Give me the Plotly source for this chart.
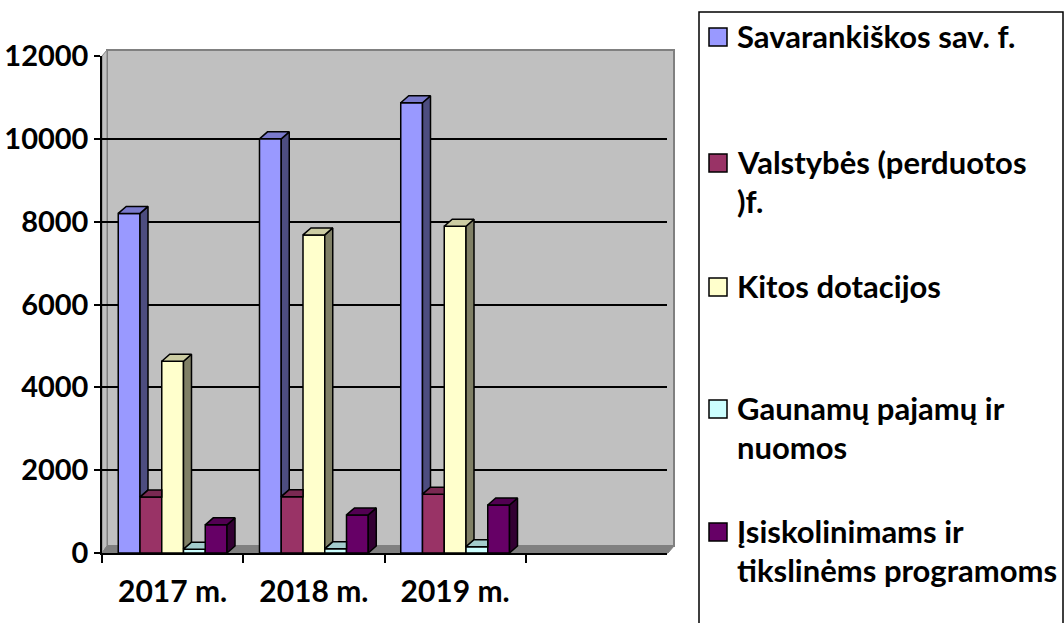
import plotly.graph_objects as go

# ---------------- data ----------------
categories = ["2017 m.", "2018 m.", "2019 m."]
series_names = [
    "Savarankiškos sav. f.",
    "Valstybės (perduotos )f.",
    "Kitos dotacijos",
    "Gaunamų pajamų ir nuomos",
    "Įsiskolinimams ir tikslinėms programoms",
]
legend_lines = [
    ["Savarankiškos sav. f."],
    ["Valstybės (perduotos", ")f."],
    ["Kitos dotacijos"],
    ["Gaunamų pajamų ir", "nuomos"],
    ["Įsiskolinimams ir", "tikslinėms programoms"],
]
savarankiskos = [8200, 10000, 10870]
valstybes = [1350, 1360, 1420]
kitos = [4630, 7680, 7890]
gaunamu = [90, 100, 150]
isiskolinimams = [680, 920, 1160]
y_ticks = [0, 2000, 4000, 6000, 8000, 10000, 12000]
y_tick_labels = ["0", "2000", "4000", "6000", "8000", "10000", "12000"]

values = [savarankiskos, valstybes, kitos, gaunamu, isiskolinimams]

front_colors = ["#9999FF", "#993366", "#FFFFCC", "#CCFFFF", "#660066"]
side_colors = ["#4D4D80", "#4D1A33", "#808066", "#668080", "#330033"]
top_colors = ["#7A7ACC", "#7A2952", "#CCCCA3", "#A3CCCC", "#520052"]

# ---------------- geometry ----------------
W, H = 1064, 623
L, R, T, B = 102, 667, 56, 553
YMAX = 12000
XMIN, XMAX = -0.5, 3.5
BARGAP = 0.23
n = len(values)
bw = (1 - BARGAP) / n
DX_PX, DY_PX = 8, 7
dxu = DX_PX * (XMAX - XMIN) / (R - L)
dyu = DY_PX * YMAX / (B - T)
FONT = "Lato"
FS = 30


def xp(px):
    return (px - L) / (R - L)


def yp(py):
    return (B - py) / (B - T)


def ppath(pts):
    return "M " + " L ".join(f"{xp(x):.5f},{yp(y):.5f}" for x, y in pts) + " Z"


fig = go.Figure()

# front faces: real bars
x_pos = list(range(len(categories)))
for j in range(n):
    fig.add_trace(go.Bar(
        x=x_pos, y=values[j], name=series_names[j],
        marker=dict(color=front_colors[j], line=dict(color="black", width=1.5)),
        showlegend=False, hovertemplate="%{y}<extra>" + series_names[j] + "</extra>",
    ))

# 3D side and top faces computed from the same values
for j in range(n):
    sx, sy, tx, ty = [], [], [], []
    for c in range(len(categories)):
        h = values[j][c]
        center = c + (j - (n - 1) / 2) * bw
        x0, x1 = center - bw / 2, center + bw / 2
        hn = values[j + 1][c] if j < n - 1 else None
        base = 0 if hn is None else hn
        if hn is None or h > hn:
            poly = [(x1, base), (x1 + dxu, base + dyu), (x1 + dxu, h + dyu), (x1, h), (x1, base)]
            for px_, py_ in poly:
                sx.append(px_)
                sy.append(py_)
            sx.append(None)
            sy.append(None)
        if hn is not None and hn >= h + dyu:
            poly = [(x0, h), (x1, h), (x1, h + dyu), (x0 + dxu, h + dyu), (x0, h)]
        elif hn is not None and hn > h:
            t = (hn - h) / dyu
            poly = [(x0, h), (x1, h), (x1, hn), (x1 + dxu * t, hn),
                    (x1 + dxu, h + dyu), (x0 + dxu, h + dyu), (x0, h)]
        else:
            poly = [(x0, h), (x1, h), (x1 + dxu, h + dyu), (x0 + dxu, h + dyu), (x0, h)]
        for px_, py_ in poly:
            tx.append(px_)
            ty.append(py_)
        tx.append(None)
        ty.append(None)
    if sx:
        fig.add_trace(go.Scatter(x=sx, y=sy, mode="lines", fill="toself",
                                 fillcolor=side_colors[j], line=dict(color="black", width=1.5),
                                 hoverinfo="skip", showlegend=False))
    fig.add_trace(go.Scatter(x=tx, y=ty, mode="lines", fill="toself",
                             fillcolor=top_colors[j], line=dict(color="black", width=1.5),
                             hoverinfo="skip", showlegend=False))

# walls / floor (decor)
shapes = [
    dict(type="path", xref="paper", yref="paper", layer="below",
         path=ppath([(107, 546), (107, 50), (674, 50), (674, 546)]),
         fillcolor="#C0C0C0", line=dict(color="#808080", width=2)),
    dict(type="path", xref="paper", yref="paper", layer="below",
         path=ppath([(102, 553), (102, 56), (107, 50), (107, 546)]),
         fillcolor="#C0C0C0", line=dict(color="#808080", width=1)),
    dict(type="path", xref="paper", yref="paper", layer="below",
         path=ppath([(102, 553), (668, 553), (674, 546), (107, 546)]),
         fillcolor="#808080", line=dict(color="#808080", width=1)),
    # legend box
    dict(type="rect", xref="paper", yref="paper", layer="above",
         x0=xp(699), x1=xp(1063), y0=yp(650), y1=yp(12),
         fillcolor="rgba(0,0,0,0)", line=dict(color="black", width=1.5)),
]

annotations = []
item_centers = [37, 163, 287, 409, 532]
LINE_H = 39
for j in range(n):
    cy = item_centers[j]
    shapes.append(dict(type="rect", xref="paper", yref="paper", layer="above",
                       x0=xp(709), x1=xp(727), y0=yp(cy + 9), y1=yp(cy - 9),
                       fillcolor=front_colors[j], line=dict(color="black", width=1.5)))
    for k, line in enumerate(legend_lines[j]):
        annotations.append(dict(
            x=xp(735), y=yp(cy - 1 + k * LINE_H), xref="paper", yref="paper",
            xanchor="left", yanchor="middle", showarrow=False, text=line,
            font=dict(family=FONT, size=FS + 1, color="black", weight="bold"),
        ))

fig.update_layout(
    width=W, height=H,
    margin=dict(l=L, r=W - R, t=T, b=H - B, pad=0, autoexpand=False),
    paper_bgcolor="white", plot_bgcolor="rgba(0,0,0,0)",
    barmode="group", bargap=BARGAP, bargroupgap=0,
    showlegend=False,
    shapes=shapes, annotations=annotations,
    xaxis=dict(
        range=[XMIN, XMAX], tickvals=x_pos, ticktext=categories,
        ticks="", showgrid=False, zeroline=False, automargin=False,
        showline=True, linecolor="black", linewidth=1.5,
        tickfont=dict(family=FONT, size=FS, color="black", weight="bold"),
        ticklabelstandoff=11,
        minor=dict(tickvals=[-0.5, 0.5, 1.5, 2.5], ticks="outside", ticklen=8,
                   tickcolor="black", tickwidth=1.5, showgrid=False),
    ),
    yaxis=dict(
        range=[0, YMAX], tickvals=y_ticks, ticktext=y_tick_labels,
        ticks="outside", ticklen=6, tickcolor="black", tickwidth=1.5,
        showgrid=True, gridcolor="black", gridwidth=1.5, zeroline=False, automargin=False,
        showline=True, linecolor="black", linewidth=1.5,
        tickfont=dict(family=FONT, size=FS - 1, color="black", weight="bold"),
        ticklabelstandoff=0,
    ),
)

fig.write_html("out.html", config={"displayModeBar": False},
               post_script="document.body.style.margin='0px';")
